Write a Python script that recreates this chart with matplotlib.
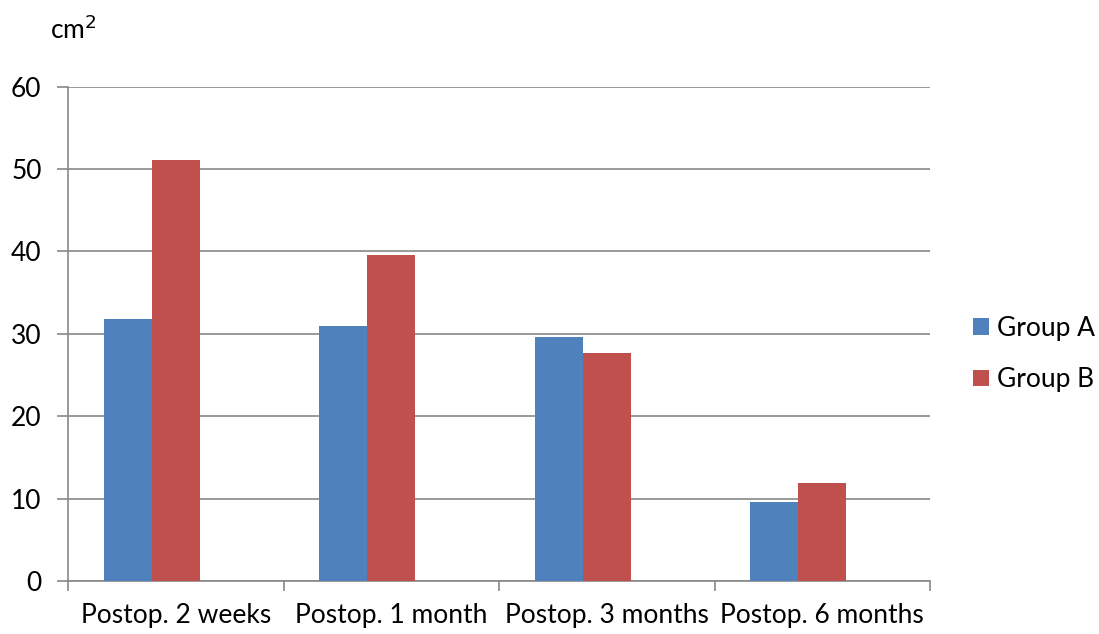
import numpy as np
import matplotlib.pyplot as plt

plt.rcParams['font.family'] = ['Lato', 'DejaVu Sans']

categories = ['Postop. 2 weeks', 'Postop. 1 month', 'Postop. 3 months', 'Postop. 6 months']
group_a = [31.8, 31.0, 29.6, 9.6]
group_b = [51.1, 39.6, 27.7, 11.9]
series_names = ['Group A', 'Group B']
yticks = [0, 10, 20, 30, 40, 50, 60]

fs = 19
fig = plt.figure(figsize=(10.99, 6.34), dpi=100)
ax = fig.add_axes([68/1099, 1-581/634, (930-68)/1099, (581-86.7)/634])

x = np.arange(len(categories))
w = 0.223
grid_c = '#888888'
ax.bar(x - w, group_a, width=w, color='#4F81BD', label=series_names[0], zorder=3)
ax.bar(x, group_b, width=w, color='#C0504D', label=series_names[1], zorder=3)

ax.set_xlim(-0.5, len(categories) - 0.5)
ax.set_ylim(0, 60)
ax.set_yticks(yticks)
ax.yaxis.grid(True, color=grid_c, linewidth=1.2, zorder=0)
ax.set_xticks(np.arange(len(categories) + 1) - 0.5)
ax.set_xticklabels([])
ax.set_xticks(x, minor=True)
ax.set_xticklabels(categories, minor=True, fontsize=fs)
ax.tick_params(axis='x', which='minor', length=0, pad=16)
ax.tick_params(axis='x', which='major', length=7, color=grid_c, width=1.2)
ax.tick_params(axis='y', length=8, color=grid_c, width=1.2, labelsize=fs, pad=11)
for s in ['top', 'right']:
    ax.spines[s].set_visible(False)
for s in ['left', 'bottom']:
    ax.spines[s].set_color(grid_c)
    ax.spines[s].set_linewidth(1.2)

fig.text(50/1099, 1-30/634, 'cm$^2$', fontsize=fs, va='center', ha='left')

ax.legend(loc='center left', bbox_to_anchor=(973/1099, 1-354/634), bbox_transform=fig.transFigure,
          frameon=False, fontsize=fs, handlelength=0.6, handleheight=0.6,
          handletextpad=0.3, labelspacing=1.0, borderpad=0, borderaxespad=0)

fig.savefig('out.png', dpi=100)
